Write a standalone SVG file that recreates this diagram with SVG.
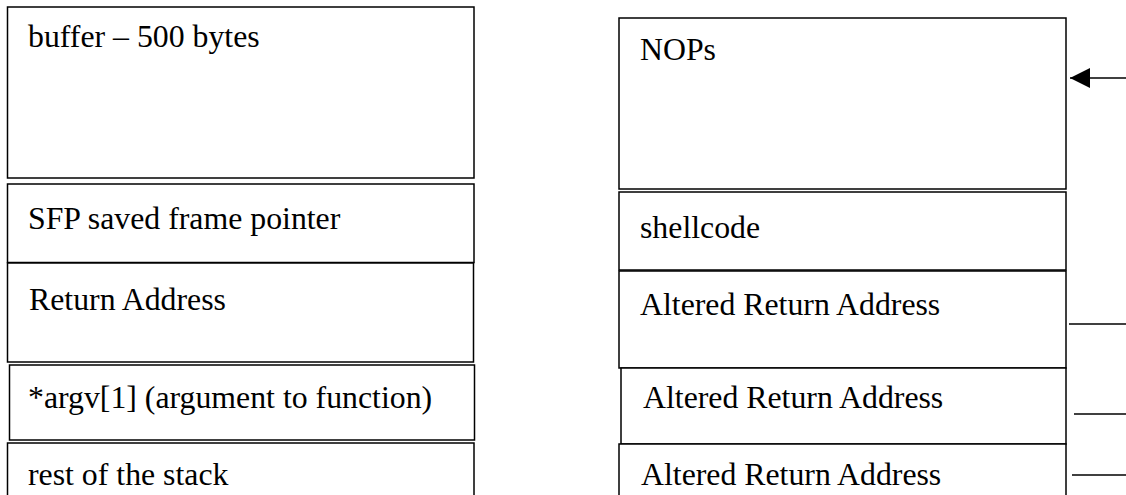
<svg xmlns="http://www.w3.org/2000/svg" width="1126" height="495" viewBox="0 0 1126 495">
<style>
.box{fill:#fff;stroke:#000;stroke-width:1.5}
.t{font-family:"Liberation Serif","Times New Roman",serif;font-size:31.8px;fill:#000}
.ln{stroke:#000;stroke-width:1.5;fill:none}
</style>
<defs>
<marker id="ah" markerWidth="20" markerHeight="20" refX="20" refY="10" orient="auto" markerUnits="userSpaceOnUse">
<path d="M0,0 L20,10 L0,20 Z" fill="#000"/>
</marker>
</defs>
<rect width="1126" height="495" fill="#fff"/>
<g id="buffer"><rect class="box" x="7.5" y="7" width="466.5" height="171"/><text class="t" x="28" y="47">buffer – 500 bytes</text></g>
<g id="sfp"><rect class="box" x="7.5" y="184" width="466.5" height="78.5"/><text class="t" x="28" y="229">SFP saved frame pointer</text></g>
<g id="ret"><rect class="box" x="7.5" y="263" width="466" height="99"/><text class="t" x="29" y="310">Return Address</text></g>
<g id="argv"><rect class="box" x="9.5" y="365" width="465" height="75"/><text class="t" x="28" y="408">*argv[1] (argument to function)</text></g>
<g id="rest"><rect class="box" x="7.5" y="443" width="466.5" height="60"/><text class="t" x="28" y="485">rest of the stack</text></g>
<g id="nops"><rect class="box" x="619" y="18" width="447" height="171"/><text class="t" x="640" y="60">NOPs</text></g>
<g id="shellcode"><rect class="box" x="619" y="192" width="447" height="78"/><text class="t" x="640" y="238">shellcode</text></g>
<g id="alt1"><rect class="box" x="619" y="271" width="447" height="97"/><text class="t" x="640" y="315">Altered Return Address</text></g>
<g id="alt2"><rect class="box" x="621" y="368" width="445" height="76"/><text class="t" x="643" y="408">Altered Return Address</text></g>
<g id="alt3"><rect class="box" x="619" y="444" width="447" height="60"/><text class="t" x="641" y="485">Altered Return Address</text></g>
<g id="connectors">
<line class="ln" x1="1126" y1="78" x2="1070" y2="78" marker-end="url(#ah)"/>
<line class="ln" x1="1069" y1="324" x2="1126" y2="324"/>
<line class="ln" x1="1074" y1="414" x2="1126" y2="414"/>
<line class="ln" x1="1072" y1="475" x2="1126" y2="475"/>
</g>
</svg>
